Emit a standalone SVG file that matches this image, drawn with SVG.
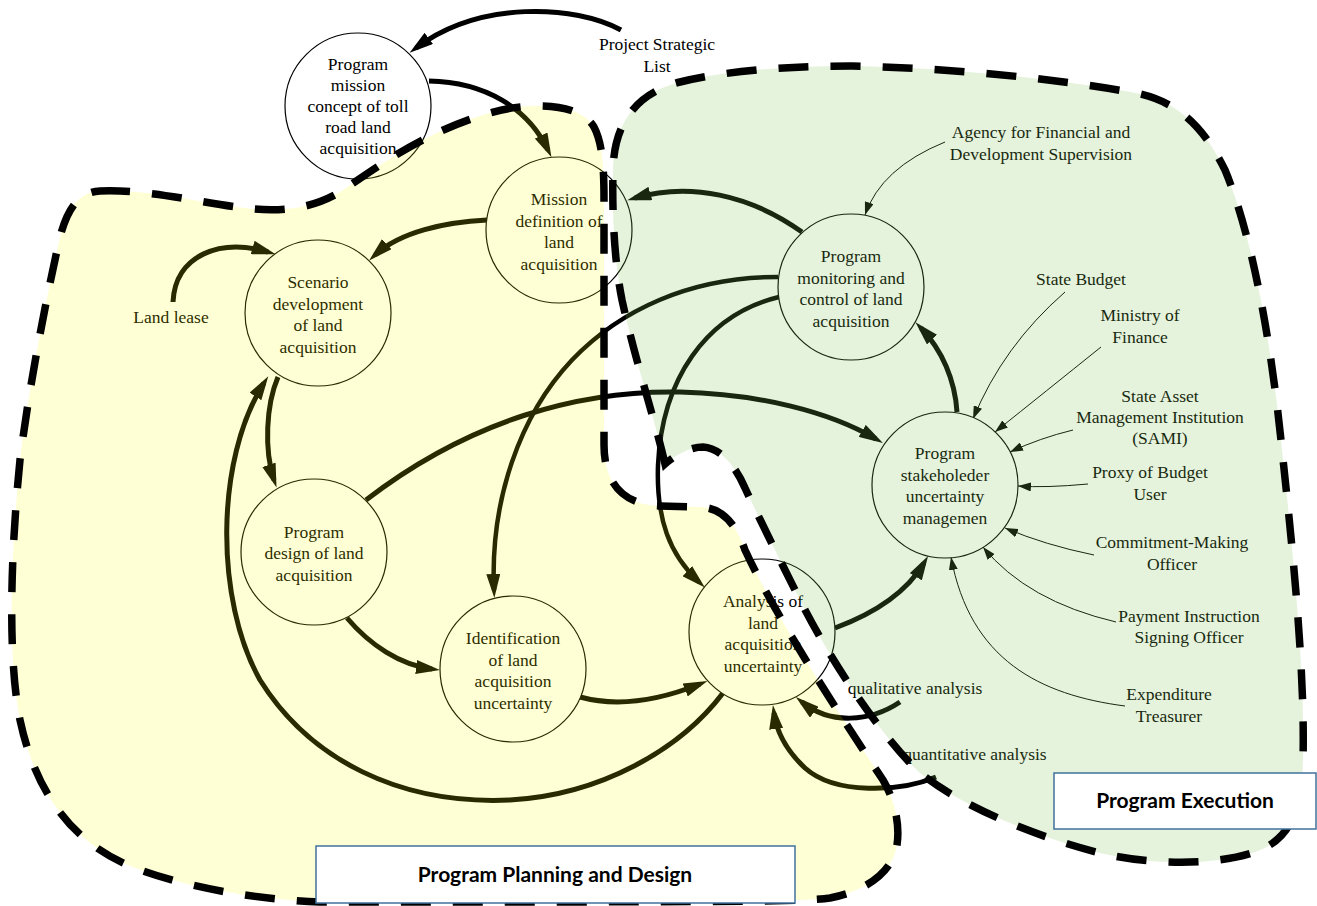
<svg xmlns="http://www.w3.org/2000/svg" width="1317" height="906" viewBox="0 0 1317 906">
<defs>
<style>
.node circle{fill:#fff;stroke:#000;stroke-width:1.2}
text{font-family:"Liberation Serif","Times New Roman",serif;font-size:17.5px;fill:#000;text-anchor:middle}
.c{fill:none;stroke:#000;stroke-width:5}
.t{fill:none;stroke:#000;stroke-width:1}
.outline{fill:none;stroke:#000;stroke-width:7.5;stroke-dasharray:30 22}
.box rect{fill:#fff;stroke:#41719C;stroke-width:1.5}
.box text{font-family:Lato,"Liberation Sans",sans-serif;font-weight:700;font-size:21px}
</style>
<marker id="ah" markerUnits="userSpaceOnUse" markerWidth="24" markerHeight="14" viewBox="0 0 24 14" refX="16" refY="7" orient="auto"><path d="M0,0 L24,7 L0,14 z" fill="#000"/></marker>
<marker id="ahs" markerUnits="userSpaceOnUse" markerWidth="13" markerHeight="9" viewBox="0 0 13 9" refX="13" refY="4.5" orient="auto"><path d="M0,0 L13,4.5 L0,9 z" fill="#000"/></marker>
</defs>
<rect width="1317" height="906" fill="#fff"/>

<g id="connectors">
<path class="c" marker-end="url(#ah)" d="M621,30 C575,5 480,0 416,48"/>
<path class="c" marker-end="url(#ah)" d="M429,81 C485,82 528,108 548,150"/>
<path class="c" marker-end="url(#ah)" d="M802,232 C750,195 690,182 635,198"/>
<path class="c" marker-end="url(#ah)" d="M487,220 C445,222 400,232 375,255"/>
<path class="c" marker-end="url(#ah)" d="M173,302 C175,255 220,238 268,252"/>
<path class="c" marker-end="url(#ah)" d="M278,377 C266,405 264,450 274,480"/>
<path class="c" marker-end="url(#ah)" d="M723,693 C680,750 600,795 510,800 C400,805 310,760 260,680 C215,600 215,460 264,383"/>
<path class="c" marker-end="url(#ah)" d="M347,618 C370,645 400,665 432,669"/>
<path class="c" marker-end="url(#ah)" d="M580,697 C620,708 660,700 700,684"/>
<path class="c" marker-end="url(#ah)" d="M366,500 C470,420 580,390 680,392 C760,394 830,412 876,439"/>
<path class="c" marker-end="url(#ah)" style="stroke-width:4.5" d="M778,277 C690,277 620,310 572,360 C520,415 490,500 494,590"/>
<path class="c" marker-end="url(#ah)" style="stroke-width:4.5" d="M779,297 C705,315 662,380 658,465 C656,520 670,555 699,582"/>
<path class="c" marker-end="url(#ah)" d="M835,628 C870,615 905,595 924,563"/>
<path class="c" marker-end="url(#ah)" d="M957,412 C955,380 942,350 921,328"/>
<path class="c" marker-end="url(#ah)" d="M900,702 C870,722 830,725 802,702"/>
<path class="c" marker-end="url(#ah)" d="M936,777 C900,792 835,795 805,768 C788,752 777,735 774,713"/>
<path class="t" marker-end="url(#ahs)" d="M945,142 Q881,168 865,215"/>
<path class="t" marker-end="url(#ahs)" d="M1065,292 Q1003,346 973,419"/>
<path class="t" marker-end="url(#ahs)" d="M1101,347 Q1045,392 995,432"/>
<path class="t" marker-end="url(#ahs)" d="M1073,430 Q1040,438 1010,452"/>
<path class="t" marker-end="url(#ahs)" d="M1088,484 Q1045,488 1018,486"/>
<path class="t" marker-end="url(#ahs)" d="M1094,555 Q1045,545 1005,528"/>
<path class="t" marker-end="url(#ahs)" d="M1116,622 Q1027,601 983,547"/>
<path class="t" marker-end="url(#ahs)" d="M1125,706 C1040,695 970,660 951,557"/>
</g>

<g id="n-mission-concept" class="node"><circle cx="358" cy="106" r="73"/>
<text><tspan x="358" y="70">Program</tspan><tspan x="358" y="91">mission</tspan><tspan x="358" y="112">concept of toll</tspan><tspan x="358" y="133">road land</tspan><tspan x="358" y="154">acquisition</tspan></text></g>
<g id="n-mission-definition" class="node"><circle cx="559" cy="230" r="73"/>
<text><tspan x="559" y="205">Mission</tspan><tspan x="559" y="226.5">definition of</tspan><tspan x="559" y="248">land</tspan><tspan x="559" y="269.5">acquisition</tspan></text></g>
<g id="n-scenario" class="node"><circle cx="318" cy="313" r="73"/>
<text><tspan x="318" y="288">Scenario</tspan><tspan x="318" y="309.5">development</tspan><tspan x="318" y="331">of land</tspan><tspan x="318" y="352.5">acquisition</tspan></text></g>
<g id="n-design" class="node"><circle cx="314" cy="552" r="73"/>
<text><tspan x="314" y="537.5">Program</tspan><tspan x="314" y="559">design of land</tspan><tspan x="314" y="580.5">acquisition</tspan></text></g>
<g id="n-identification" class="node"><circle cx="513" cy="669" r="73"/>
<text><tspan x="513" y="644">Identification</tspan><tspan x="513" y="665.5">of land</tspan><tspan x="513" y="687">acquisition</tspan><tspan x="513" y="708.5">uncertainty</tspan></text></g>
<g id="n-analysis" class="node"><circle cx="762" cy="632" r="73"/>
<text><tspan x="763" y="607">Analysis of</tspan><tspan x="763" y="628.5">land</tspan><tspan x="763" y="650">acquisition</tspan><tspan x="763" y="671.5">uncertainty</tspan></text></g>
<g id="n-monitoring" class="node"><circle cx="851" cy="287" r="73"/>
<text><tspan x="851" y="262">Program</tspan><tspan x="851" y="283.5">monitoring and</tspan><tspan x="851" y="305">control of land</tspan><tspan x="851" y="326.5">acquisition</tspan></text></g>
<g id="n-stakeholder" class="node"><circle cx="945" cy="485" r="73"/>
<text><tspan x="945" y="459">Program</tspan><tspan x="945" y="480.5">stakeholeder</tspan><tspan x="945" y="502">uncertainty</tspan><tspan x="945" y="523.5">managemen</tspan></text></g>

<g id="l-psl"><text><tspan x="657" y="50">Project Strategic</tspan><tspan x="657" y="72">List</tspan></text></g>
<g id="l-agency"><text><tspan x="1041" y="138">Agency for Financial and</tspan><tspan x="1041" y="160">Development Supervision</tspan></text></g>
<g id="l-budget"><text x="1081" y="285">State Budget</text></g>
<g id="l-ministry"><text><tspan x="1140" y="321">Ministry of</tspan><tspan x="1140" y="343">Finance</tspan></text></g>
<g id="l-sami"><text><tspan x="1160" y="402">State Asset</tspan><tspan x="1160" y="423">Management Institution</tspan><tspan x="1160" y="444">(SAMI)</tspan></text></g>
<g id="l-proxy"><text><tspan x="1150" y="478">Proxy of Budget</tspan><tspan x="1150" y="500">User</tspan></text></g>
<g id="l-commitment"><text><tspan x="1172" y="548">Commitment-Making</tspan><tspan x="1172" y="570">Officer</tspan></text></g>
<g id="l-payment"><text><tspan x="1189" y="622">Payment Instruction</tspan><tspan x="1189" y="643">Signing Officer</tspan></text></g>
<g id="l-expenditure"><text><tspan x="1169" y="700">Expenditure</tspan><tspan x="1169" y="722">Treasurer</tspan></text></g>
<g id="l-qualitative"><text x="915" y="694">qualitative analysis</text></g>
<g id="l-quantitative"><text x="975" y="760">quantitative analysis</text></g>
<g id="l-landlease"><text x="171" y="323">Land lease</text></g>

<g id="regions">
<path id="region-planning" fill="#FFFF00" fill-opacity="0.165" d="M100,191 C150,189 200,203 245,208 C285,213 315,207 340,192 C380,165 420,135 483,115 C530,100 580,103 594,127 C602,142 604,165 604,200 L604,445 C604,485 625,505 660,506 L700,507 C722,508 735,522 745,550 C775,615 830,700 883,780 C895,800 900,825 897,845 C893,870 870,890 830,898 C800,902 700,902 320,902 C250,899 180,886 130,866 C70,841 35,790 20,720 C8,660 10,560 20,460 C30,380 48,290 60,237 C67,210 78,192 100,191 Z"/>
<path id="region-execution" fill="#7DBE50" fill-opacity="0.2" d="M665,464 C655,420 635,360 622,300 C614,260 612,210 613,170 C614,130 630,95 680,82 C720,72 780,66 850,66 C950,68 1050,78 1130,92 C1180,100 1205,130 1225,170 C1250,230 1270,330 1282,450 C1295,570 1305,680 1303,760 C1302,810 1290,840 1255,852 C1215,866 1150,865 1100,853 C1030,835 960,805 920,773 C880,735 830,660 800,600 C780,560 760,520 745,488 C735,465 720,448 703,447 C690,447 675,455 665,464 Z"/>
<path class="outline" d="M100,191 C150,189 200,203 245,208 C285,213 315,207 340,192 C380,165 420,135 483,115 C530,100 580,103 594,127 C602,142 604,165 604,200 L604,445 C604,485 625,505 660,506 L700,507 C722,508 735,522 745,550 C775,615 830,700 883,780 C895,800 900,825 897,845 C893,870 870,890 830,898 C800,902 700,902 320,902 C250,899 180,886 130,866 C70,841 35,790 20,720 C8,660 10,560 20,460 C30,380 48,290 60,237 C67,210 78,192 100,191 Z"/>
<path class="outline" d="M665,464 C655,420 635,360 622,300 C614,260 612,210 613,170 C614,130 630,95 680,82 C720,72 780,66 850,66 C950,68 1050,78 1130,92 C1180,100 1205,130 1225,170 C1250,230 1270,330 1282,450 C1295,570 1305,680 1303,760 C1302,810 1290,840 1255,852 C1215,866 1150,865 1100,853 C1030,835 960,805 920,773 C880,735 830,660 800,600 C780,560 760,520 745,488 C735,465 720,448 703,447 C690,447 675,455 665,464 Z"/>
</g>

<g id="box-planning" class="box"><rect x="316" y="846" width="479" height="57"/><text x="555" y="882">Program Planning and Design</text></g>
<g id="box-execution" class="box"><rect x="1054" y="773" width="262" height="56"/><text x="1185" y="808">Program Execution</text></g>
</svg>
